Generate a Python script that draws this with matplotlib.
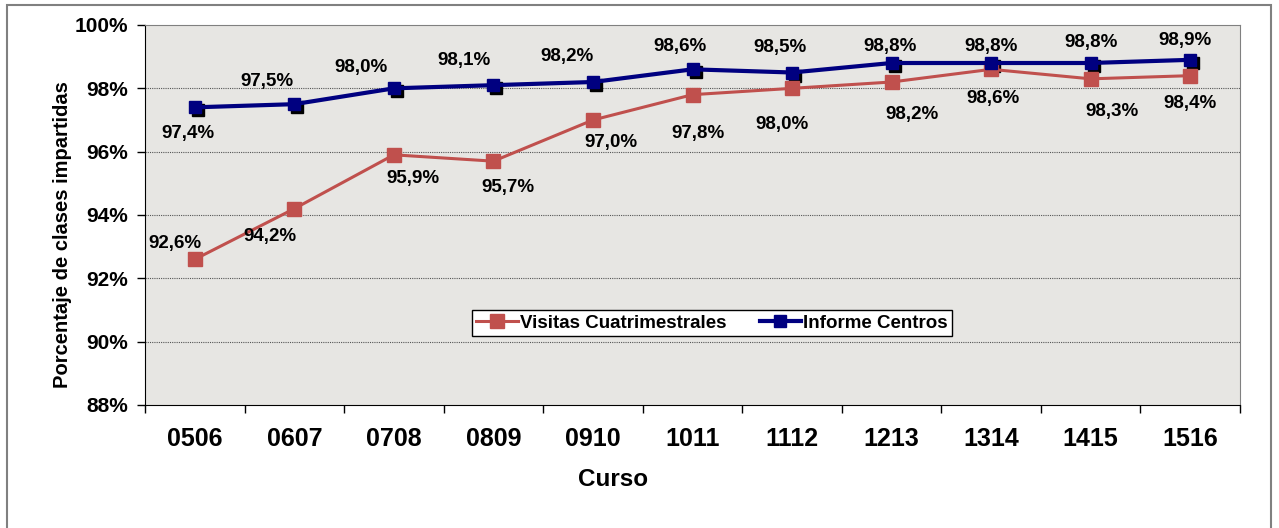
import matplotlib.pyplot as plt
from matplotlib.patches import Rectangle
from matplotlib.transforms import offset_copy

plt.rcParams['font.family'] = ['Liberation Sans', 'DejaVu Sans']
plt.rcParams['font.weight'] = 'bold'

cursos = ['0506', '0607', '0708', '0809', '0910', '1011', '1112', '1213', '1314', '1415', '1516']
visitas = [92.6, 94.2, 95.9, 95.7, 97.0, 97.8, 98.0, 98.2, 98.6, 98.3, 98.4]
informe = [97.4, 97.5, 98.0, 98.1, 98.2, 98.6, 98.5, 98.8, 98.8, 98.8, 98.9]

# label offsets in pixels (dx, dy) relative to the point
off_vis = [(-20, 16), (-24, -28), (19, -24), (15, -26), (18, -23), (5, -39), (-10, -36), (20, -32), (2, -29), (21, -33), (0, -28)]
off_inf = [(-7, -26), (-27, 23), (-33, 21), (-29, 25), (-26, 25), (-13, 23), (-12, 25), (-2, 16), (0, 16), (0, 20), (-5, 19)]

red = '#C0504D'
blue = '#000080'

fig = plt.figure(figsize=(12.79, 5.28), dpi=100)
fig.patches.append(Rectangle((7/1279, -0.01), 1264/1279, 1 - 5/528 + 0.01, transform=fig.transFigure,
                             fill=False, edgecolor='#808080', linewidth=1.5))
ax = fig.add_axes([145/1279, 1 - 405/528, 1095/1279, 380/528])
ax.set_facecolor('#E7E6E3')

x = [i + 0.5 for i in range(len(cursos))]

# black marker shadow under the blue series
sh = offset_copy(ax.transData, fig=fig, x=3, y=-3, units='dots')
ax.plot(x, informe, 's', color='black', markersize=8, transform=sh, zorder=3)

ax.plot(x, visitas, '-s', color=red, linewidth=2.2, markersize=10, label='Visitas Cuatrimestrales', zorder=4)
ax.plot(x, informe, '-s', color=blue, linewidth=3, markersize=8, label='Informe Centros', zorder=5)

for xi, v, o in zip(x, visitas, off_vis):
    ax.annotate(f'{v:.1f}%'.replace('.', ','), (xi, v), xytext=o, textcoords='offset pixels',
                ha='center', va='center', fontsize=13.5, fontweight='bold', zorder=6)
for xi, v, o in zip(x, informe, off_inf):
    ax.annotate(f'{v:.1f}%'.replace('.', ','), (xi, v), xytext=o, textcoords='offset pixels',
                ha='center', va='center', fontsize=13.5, fontweight='bold', zorder=6)

ax.set_xlim(0, len(cursos))
ax.set_ylim(88, 100)
ax.set_xticks(range(len(cursos) + 1))
ax.set_xticklabels([])
ax.set_xticks(x, minor=True)
ax.set_xticklabels(cursos, minor=True, fontsize=18, fontweight='bold')
ax.tick_params(axis='x', which='minor', length=0, pad=16)
ax.tick_params(axis='x', which='major', length=6, direction='out', width=1)
ax.set_yticks(range(88, 101, 2))
ax.set_yticklabels([f'{t}%' for t in range(88, 101, 2)], fontsize=15, fontweight='bold')
ax.tick_params(axis='y', length=6, width=1, pad=6)

for g in range(90, 100, 2):
    ax.axhline(g, color='#555555', linestyle=(0, (1, 1)), linewidth=0.8, zorder=1)

ax.spines['top'].set_color('#808080')
ax.spines['right'].set_color('#808080')
ax.spines['left'].set_color('black')
ax.spines['bottom'].set_color('black')

ax.set_xlabel('Curso', fontsize=17.5, fontweight='bold')
ax.xaxis.set_label_coords(613/1279, 1 - 468/528, transform=fig.transFigure)
ax.set_ylabel('Porcentaje de clases impartidas', fontsize=14.5, fontweight='bold')
ax.yaxis.set_label_coords(72/1279, 1 - 235/528, transform=fig.transFigure)

leg = ax.legend(loc='center', bbox_to_anchor=(712/1279, 1 - 323/528), bbox_transform=fig.transFigure,
                ncol=2, fancybox=False, framealpha=1, edgecolor='black', fontsize=13.5,
                handlelength=2.2, columnspacing=1.8, handletextpad=0.1, borderpad=0.25)
leg.get_frame().set_linewidth(1)

fig.savefig('out.png', dpi=100)
